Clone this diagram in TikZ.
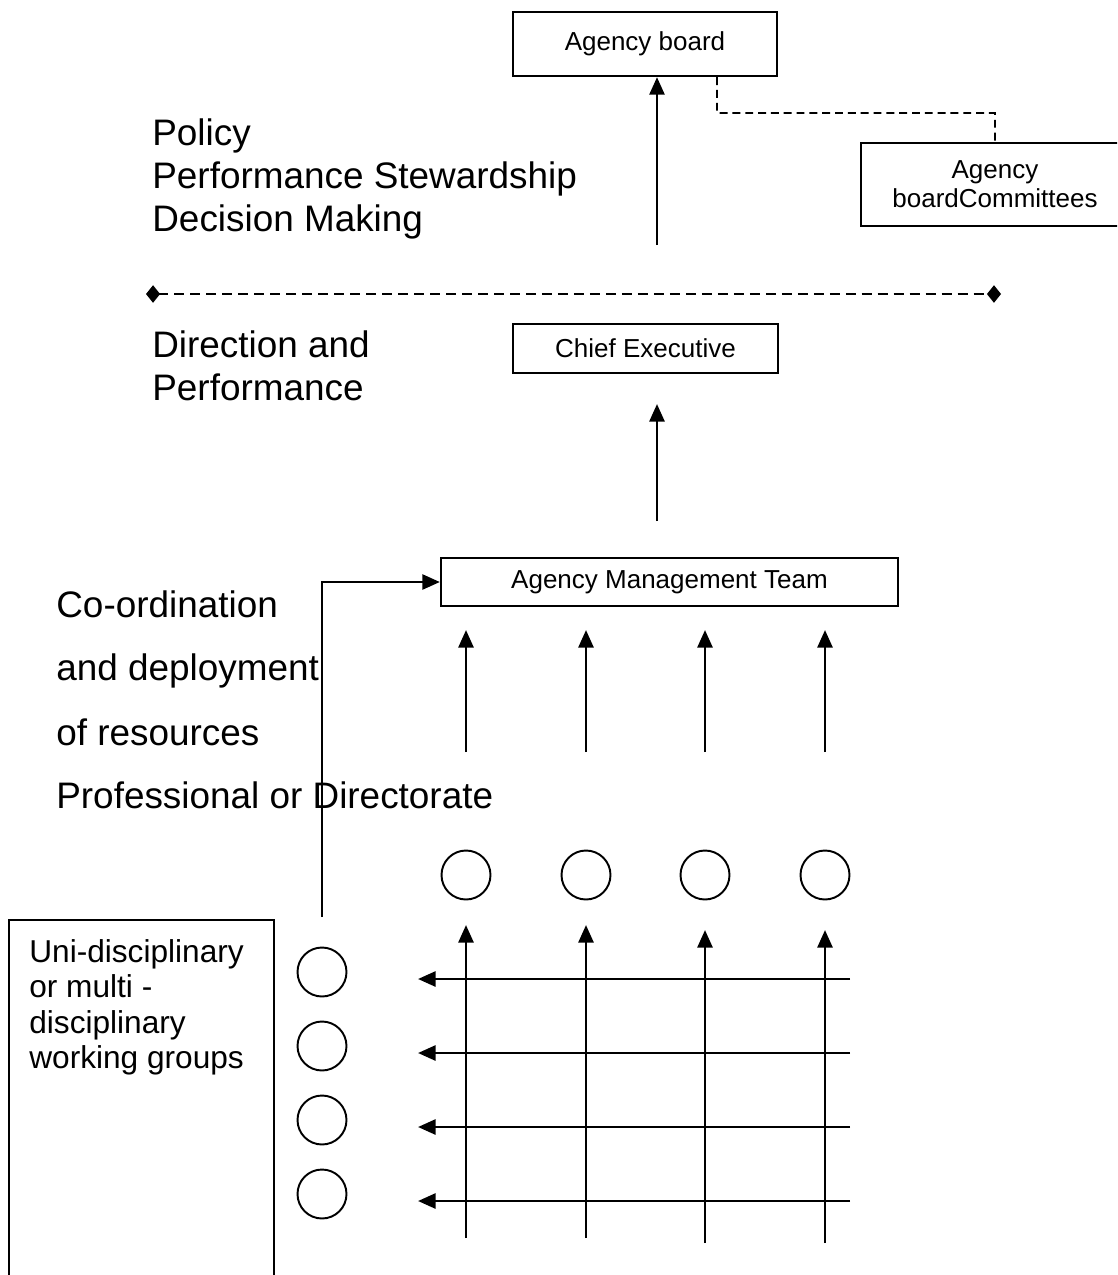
\documentclass[tikz,border=0pt]{standalone}
\usepackage{fontspec}
\setmainfont{Liberation Sans}
\usetikzlibrary{arrows.meta}

\begin{document}
\begin{tikzpicture}[x=0.02cm, y=-0.02cm,
  bigtext/.style={anchor=base west, inner sep=0pt, font=\fontsize{21}{25}\selectfont},
  midtext/.style={anchor=base west, inner sep=0pt, font=\fontsize{18}{20}\selectfont},
  boxed/.style={draw, line width=1.3pt, inner sep=0pt, align=center, font=\fontsize{14.8}{16.4}\selectfont},
  upline/.style={line width=1.6pt, -{Triangle[length=10pt, width=8.5pt]}},
  ring/.style={draw, circle, line width=1.1pt, minimum size=0.98cm, inner sep=0pt}]

\useasboundingbox (0,0) rectangle (1117,1275);
\clip (0,0) rectangle (1117,1275);

% boxes
\node[boxed, minimum width=5.28cm, minimum height=1.28cm] (board) at (645,44) {Agency board};
\node[boxed, minimum width=5.36cm, minimum height=1.66cm] (committees) at (995,184.5) {Agency\\boardCommittees};
\node[boxed, minimum width=5.3cm, minimum height=0.98cm] (chief) at (645.5,348.5) {Chief Executive};
\node[boxed, minimum width=9.14cm, minimum height=0.96cm] (amt) at (669.5,582) {Agency Management Team};
\node[draw, line width=1.1pt, minimum width=5.3cm, minimum height=8cm, anchor=north west] (groups) at (8,919) {};

% levels
\node[bigtext] (policy) at (152,145) {Policy};
\node[bigtext] (stewardship) at (152,188) {Performance Stewardship};
\node[bigtext] (decision) at (152,231) {Decision Making};
\node[bigtext] (direction) at (152,357) {Direction and};
\node[bigtext] (performance) at (152,400) {Performance};
\node[bigtext] (coord) at (56,617) {Co-ordination};
\node[bigtext] (deploy) at (56,680) {and deployment};
\node[bigtext] (resources) at (56,745) {of resources};
\node[bigtext] (directorate) at (56,808) {Professional or Directorate};

\node[midtext] (uni) at (29,962) {Uni-disciplinary};
\node[midtext] (multi) at (29,997.5) {or multi -};
\node[midtext] (disc) at (29,1033) {disciplinary};
\node[midtext] (working) at (29,1068) {working groups};

% board line
\coordinate (sepL) at (146,294);
\coordinate (sepR) at (1001,294);
\draw[line width=1.6pt, dash pattern=on 5.7pt off 3.4pt,
  {Diamond[length=8pt, width=10pt]}-{Diamond[length=8pt, width=10pt]}] (sepL) -- (sepR);

\coordinate (bend) at (717,113);
\draw[line width=1pt, dash pattern=on 4.5pt off 2.8pt] ([xshift=1.44cm]board.south) -- (bend) -| (committees.north);

\coordinate (boardfoot) at (657,245);
\draw[upline] (boardfoot) -- (boardfoot |- board.south);

\coordinate (chieffoot) at (657,521);
\coordinate (chieftip) at (657,404);
\draw[upline] (chieffoot) -- (chieftip);

% directorates
\foreach \x [count=\i] in {466,586,705,825} {
  \coordinate (amtfoot\i) at (\x,752);
  \coordinate (amttip\i) at (\x,630);
  \draw[upline] (amtfoot\i) -- (amttip\i);
  \node[ring] (unit\i) at (\x,875) {};
}

\foreach \x/\lo/\hi [count=\i] in {466/1238/925, 586/1238/925, 705/1243/930, 825/1243/930} {
  \coordinate (colfoot\i) at (\x,\lo);
  \coordinate (coltip\i) at (\x,\hi);
  \draw[upline] (colfoot\i) -- (coltip\i);
}

% working groups
\foreach \y [count=\i] in {979,1053,1127,1201} {
  \coordinate (rowstart\i) at (850,\y);
  \coordinate (rowtip\i) at (418,\y);
  \draw[upline] (rowstart\i) -- (rowtip\i);
}

\foreach \y [count=\i] in {972,1046,1120,1194}
  \node[ring] (group\i) at (322,\y) {};

\coordinate (groupfoot) at (322,917);
\draw[upline] (groupfoot) |- (amt.west);

\end{tikzpicture}
\end{document}
